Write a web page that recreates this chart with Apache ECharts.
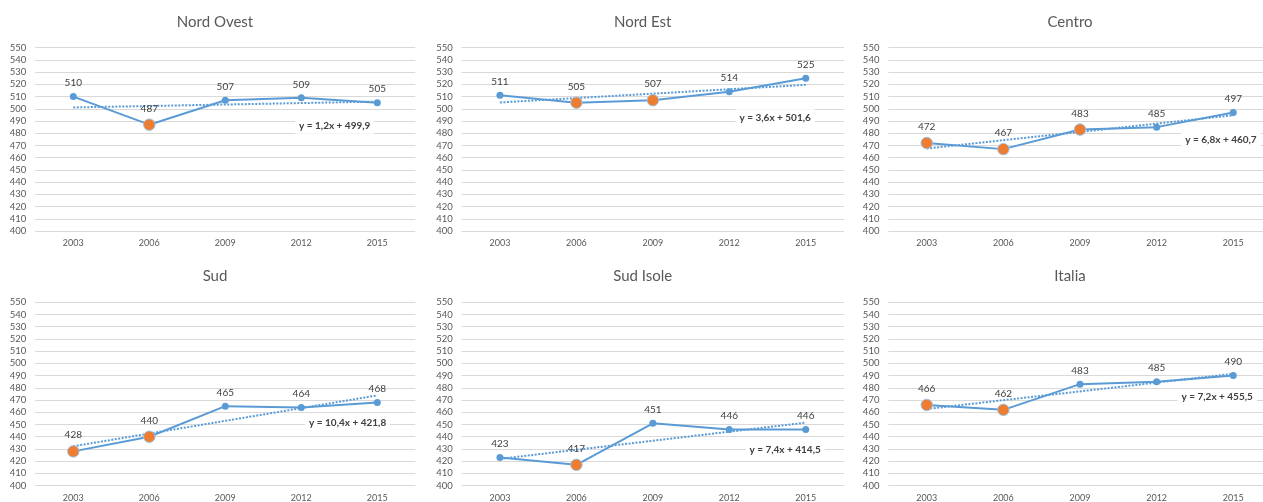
<!DOCTYPE html>
<html><head><meta charset="utf-8">
<script src="https://cdn.jsdelivr.net/npm/echarts@6/dist/echarts.min.js"></script>
<style>html,body{margin:0;padding:0;background:#fff}#c{width:1263px;height:502px}</style>
</head><body><div id="c"></div>
<script>
// ---- data ----
const years = ['2003','2006','2009','2012','2015'];
const yMin = 400, yMax = 550, yInterval = 10;
const titles = ['Nord Ovest','Nord Est','Centro','Sud','Sud Isole','Italia'];
const nordOvest = [510,487,507,509,505];
const nordEst   = [511,505,507,514,525];
const centro    = [472,467,483,485,497];
const sud       = [428,440,465,464,468];
const sudIsole  = [423,417,451,446,446];
const italia    = [466,462,483,485,490];
const highlighted = [[1],[1,2],[0,1,2],[0,1],[1],[0,1]];
const trendStart = [501.1,505.2,467.5,432.2,421.9,462.7];
const trendEnd   = [505.9,519.6,494.7,473.8,451.5,491.5];
const equations = ['y = 1,2x + 499,9','y = 3,6x + 501,6','y = 6,8x + 460,7','y = 10,4x + 421,8','y = 7,4x + 414,5','y = 7,2x + 455,5'];
const eqAnchor = [[3.44,486.2],[3.6,493],[3.84,474.5],[3.61,451],[3.73,429.7],[3.79,472.3]];
const seriesValues = [nordOvest,nordEst,centro,sud,sudIsole,italia];

// ---- layout / style ----
const colLeft = [35.3, 461.7, 888.4];
const colWidth = [380, 382.3, 383.2];
const rowTop = [47.7, 302.3];
const gridH = 183.3;
const titleX = [215, 642.7, 1070];
const titleTop = [15, 269];
const BLUE = '#5B9BD5', ORANGE = '#ED7D31', TXT = '#595959', LBL = '#404040';
const FONT = 'Lato, "Open Sans", sans-serif';

const chart = echarts.init(document.getElementById('c'), null, {renderer:'canvas'});
const grids = [], xAxes = [], yAxes = [], series = [], title = [];
for (let i = 0; i < 6; i++) {
  const col = i % 3, row = Math.floor(i / 3);
  grids.push({left: colLeft[col], top: rowTop[row], width: colWidth[col], height: gridH, outerBoundsMode: 'none', containLabel: false});
  xAxes.push({type:'category', gridIndex:i, data: years, boundaryGap:true,
    axisLine:{show:false}, axisTick:{show:false},
    axisLabel:{color:TXT, fontSize:9, fontFamily:FONT, margin:8}, splitLine:{show:false}});
  yAxes.push({type:'value', gridIndex:i, min:yMin, max:yMax, interval:yInterval,
    axisLine:{show:false}, axisTick:{show:false},
    axisLabel:{color:TXT, fontSize:9.5, fontFamily:FONT, margin:9},
    splitLine:{show:true, lineStyle:{color:'#D9D9D9', width:1}}});
  title.push({text: titles[i], left: titleX[col], top: titleTop[row], textAlign:'center', padding:0,
    textStyle:{color:TXT, fontSize:15, fontWeight:'normal', fontFamily:FONT}});
  series.push({type:'line', xAxisIndex:i, yAxisIndex:i, z:2,
    data:[[0,trendStart[i]],[4,trendEnd[i]]], symbol:'none', silent:true,
    lineStyle:{color:BLUE, width:2, type:[2,1.5]}});
  const vals = seriesValues[i];
  series.push({type:'line', xAxisIndex:i, yAxisIndex:i, z:3,
    data: vals.map((v, k) => highlighted[i].includes(k)
      ? {value:v, symbolSize:11.5, itemStyle:{color:ORANGE, borderColor:'#9DC3E6', borderWidth:1}}
      : {value:v}),
    symbol:'circle', symbolSize:7, showAllSymbol:true,
    itemStyle:{color:BLUE}, lineStyle:{color:BLUE, width:2},
    label:{show:true, position:'top', distance:5, color:LBL, fontSize:10, fontFamily:FONT},
    animation:false});
}
chart.setOption({animation:false, title, grid:grids, xAxis:xAxes, yAxis:yAxes, series});

const graphic = [];
for (let i = 0; i < 6; i++) {
  const a = eqAnchor[i];
  const base = Math.floor(a[0]);
  const p0 = chart.convertToPixel({gridIndex:i}, [base, a[1]]);
  const p1 = chart.convertToPixel({gridIndex:i}, [base + 1, a[1]]);
  const x = p0[0] + (a[0] - base) * (p1[0] - p0[0]);
  graphic.push({type:'text', x: x, y: p0[1], z: 10,
    style:{text: equations[i], align:'center', verticalAlign:'middle', fill:LBL,
      fontSize:10, fontWeight:'bold', fontFamily:FONT, backgroundColor:'#fff', padding:[3,4]}});
}
chart.setOption({graphic});
</script></body></html>
